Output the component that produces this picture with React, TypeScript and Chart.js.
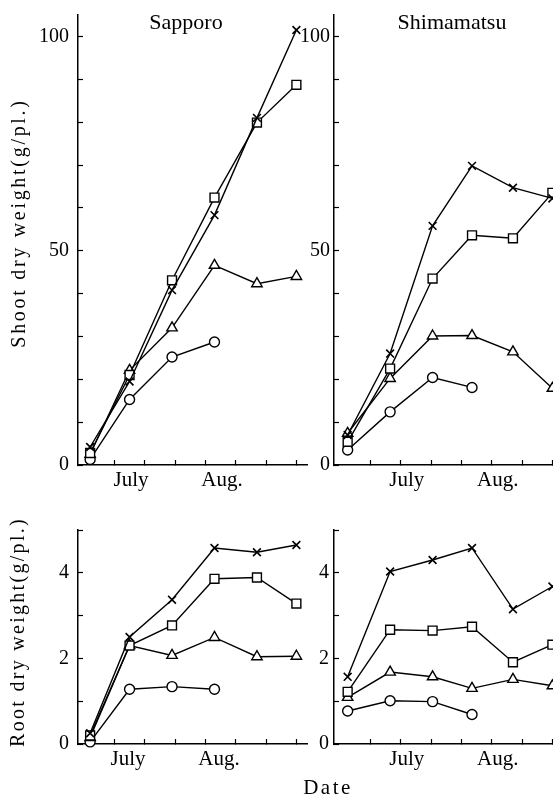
import React, { useEffect, useRef } from 'react';
import { Chart, registerables } from 'chart.js';

Chart.register(...registerables);

const FONT = "'Liberation Serif', 'DejaVu Serif', serif";

// sampling dates, expressed as days on the shared date axis
const sapporoDays = [4, 17, 31, 45, 59, 72];
const shimamatsuDays = [4.5, 18.5, 32.5, 45.5, 59, 72];
// date-axis tick marks (every 10 days) and month labels
const dateTicks = [12, 22, 32, 42, 52, 62, 72];
const monthLabels = ['July', 'Aug.'];
const sapporoMonthDays = [17.5, 47.5];
const shimamatsuMonthDays = [24, 54];

// y ticks
const shootTicks = [0, 10, 20, 30, 40, 50, 60, 70, 80, 90, 100];
const shootTickLabels = [0, 50, 100];
const rootTicks = [0, 1, 2, 3, 4, 5];
const rootTickLabels = [0, 2, 4];

// Shoot dry weight (g/pl.) — Sapporo
const sapporoShootCross = [4.2, 19.5, 40.8, 58.3, 81, 101.5];
const sapporoShootSquare = [2.8, 21, 43.1, 62.4, 79.9, 88.7];
const sapporoShootTriangle = [2.5, 22.1, 32, 46.6, 42.3, 44];
const sapporoShootCircle = [1.3, 15.3, 25.2, 28.7];

// Shoot dry weight (g/pl.) — Shimamatsu
const shimaShootCross = [7, 26, 55.8, 69.8, 64.7, 62.2];
const shimaShootSquare = [5.4, 22.5, 43.5, 53.6, 52.9, 63.5];
const shimaShootTriangle = [7.4, 20.2, 30.1, 30.2, 26.4, 17.9];
const shimaShootCircle = [3.5, 12.4, 20.4, 18.1];

// Root dry weight (g/pl.) — Sapporo
const sapporoRootCross = [0.25, 2.5, 3.37, 4.58, 4.48, 4.65];
const sapporoRootSquare = [0.2, 2.3, 2.77, 3.86, 3.89, 3.28];
const sapporoRootTriangle = [0.15, 2.3, 2.07, 2.49, 2.04, 2.05];
const sapporoRootCircle = [0.05, 1.28, 1.34, 1.28];

// Root dry weight (g/pl.) — Shimamatsu
const shimaRootCross = [1.57, 4.03, 4.3, 4.58, 3.15, 3.68];
const shimaRootSquare = [1.22, 2.67, 2.65, 2.74, 1.91, 2.32];
const shimaRootTriangle = [1.09, 1.68, 1.57, 1.3, 1.51, 1.36];
const shimaRootCircle = [0.77, 1.01, 0.99, 0.69];

type TextItem = { text: string; x: number; y: number; size: number; spacing?: number; rotate?: number };

type PanelProps = {
  left: number;
  top: number;
  width: number;
  height: number;
  padTop: number;
  padRight: number;
  yWidth: number;
  xHeight: number;
  yPad: number;
  xPad: number;
  days: number[];
  series: number[][];
  yMax: number;
  yTicks: number[];
  yLabels: number[];
  monthDays: number[];
  texts: TextItem[];
};

const markerStyles = [
  { pointStyle: 'crossRot', pointRadius: 5.5, pointBorderWidth: 1.6 },
  { pointStyle: 'rect', pointRadius: 6.3, pointBorderWidth: 1.4 },
  { pointStyle: 'triangle', pointRadius: 6, pointBorderWidth: 1.4 },
  { pointStyle: 'circle', pointRadius: 5, pointBorderWidth: 1.4 },
];

function zeroPadding(s: any) {
  s.paddingTop = 0;
  s.paddingBottom = 0;
  s.paddingLeft = 0;
  s.paddingRight = 0;
}

function Panel(p: PanelProps) {
  const ref = useRef<HTMLCanvasElement>(null);
  useEffect(() => {
    const texts = p.texts;
    const left = p.left;
    const top = p.top;
    const textPlugin = {
      id: 'pageTexts',
      afterDraw(chart: any) {
        const ctx = chart.ctx as CanvasRenderingContext2D;
        for (const t of texts) {
          ctx.save();
          ctx.translate(t.x - left, t.y - top);
          if (t.rotate) ctx.rotate(t.rotate);
          ctx.font = `${t.size}px ${FONT}`;
          (ctx as any).letterSpacing = `${t.spacing || 0}px`;
          ctx.fillStyle = '#000';
          ctx.textAlign = 'center';
          ctx.textBaseline = 'middle';
          ctx.fillText(t.text, 0, 0);
          ctx.restore();
        }
      },
    };
    const allX = [...dateTicks, ...p.monthDays].sort((a, b) => a - b);
    const datasets = p.series.map((vals, si) => ({
      data: vals.map((v, i) => ({ x: p.days[i], y: v })),
      borderColor: '#000',
      borderWidth: 1.4,
      pointBackgroundColor: '#fff',
      pointBorderColor: '#000',
      fill: false,
      tension: 0,
      clip: false as any,
      ...markerStyles[si],
    }));
    const chart = new Chart(ref.current as HTMLCanvasElement, {
      type: 'line',
      data: { datasets: datasets as any },
      options: {
        responsive: false,
        maintainAspectRatio: false,
        animation: false,
        events: [],
        layout: { padding: { left: 0, top: p.padTop, right: p.padRight, bottom: 0 } },
        plugins: {
          legend: { display: false },
          tooltip: { enabled: false },
          title: { display: false },
        },
        scales: {
          x: {
            type: 'linear',
            position: 'bottom',
            min: 0,
            max: 75.5,
            afterFit: (s: any) => {
              s.height = p.xHeight;
              zeroPadding(s);
            },
            afterBuildTicks: (s: any) => {
              s.ticks = allX.map((v) => ({ value: v }));
            },
            border: { display: true, color: '#000', width: 1.5 },
            grid: {
              display: true,
              drawOnChartArea: false,
              drawTicks: true,
              tickLength: -5,
              tickWidth: 1.2,
              tickColor: (c: any) =>
                c.tick && p.monthDays.includes(c.tick.value) ? 'rgba(0,0,0,0)' : '#000',
            },
            ticks: {
              autoSkip: false,
              maxRotation: 0,
              minRotation: 0,
              padding: p.xPad,
              color: '#000',
              font: { family: FONT, size: 21 },
              callback: (v: any) => {
                const i = p.monthDays.indexOf(Number(v));
                return i >= 0 ? monthLabels[i] : '';
              },
            },
          },
          y: {
            type: 'linear',
            position: 'left',
            min: 0,
            max: p.yMax,
            afterFit: (s: any) => {
              s.width = p.yWidth;
              zeroPadding(s);
            },
            afterBuildTicks: (s: any) => {
              s.ticks = p.yTicks.map((v) => ({ value: v }));
            },
            border: { display: true, color: '#000', width: 1.5 },
            grid: {
              display: true,
              drawOnChartArea: false,
              drawTicks: true,
              tickLength: -5,
              tickWidth: 1.2,
              tickColor: '#000',
            },
            ticks: {
              autoSkip: false,
              padding: p.yPad,
              color: '#000',
              font: { family: FONT, size: 20 },
              callback: (v: any) => (p.yLabels.includes(Number(v)) ? String(v) : ''),
            },
          },
        },
      },
      plugins: [textPlugin],
    });
    return () => chart.destroy();
  }, []);
  return (
    <canvas
      ref={ref}
      width={p.width}
      height={p.height}
      style={{ position: 'absolute', left: p.left, top: p.top, width: p.width, height: p.height }}
    />
  );
}

export default function App() {
  return (
    <div
      style={{
        position: 'absolute',
        left: 0,
        top: 0,
        width: 553,
        height: 800,
        overflow: 'hidden',
        background: '#fff',
      }}
    >
      <Panel
        left={0}
        top={0}
        width={330}
        height={500}
        padTop={15}
        padRight={23}
        yWidth={78}
        xHeight={35}
        yPad={14}
        xPad={8}
        days={sapporoDays}
        series={[sapporoShootCross, sapporoShootSquare, sapporoShootTriangle, sapporoShootCircle]}
        yMax={105}
        yTicks={shootTicks}
        yLabels={shootTickLabels}
        monthDays={sapporoMonthDays}
        texts={[
          { text: 'Sapporo', x: 186, y: 23, size: 22 },
          { text: 'Shoot dry weight(g/pl.)', x: 19.5, y: 223, size: 20, spacing: 2.7, rotate: -Math.PI / 2 },
        ]}
      />
      <Panel
        left={290}
        top={0}
        width={283}
        height={500}
        padTop={15}
        padRight={10}
        yWidth={44}
        xHeight={35}
        yPad={9}
        xPad={8}
        days={shimamatsuDays}
        series={[shimaShootCross, shimaShootSquare, shimaShootTriangle, shimaShootCircle]}
        yMax={105}
        yTicks={shootTicks}
        yLabels={shootTickLabels}
        monthDays={shimamatsuMonthDays}
        texts={[{ text: 'Shimamatsu', x: 452, y: 23, size: 22 }]}
      />
      <Panel
        left={0}
        top={500}
        width={360}
        height={300}
        padTop={30}
        padRight={53}
        yWidth={78}
        xHeight={56}
        yPad={14}
        xPad={8}
        days={sapporoDays}
        series={[sapporoRootCross, sapporoRootSquare, sapporoRootTriangle, sapporoRootCircle]}
        yMax={5}
        yTicks={rootTicks}
        yLabels={rootTickLabels}
        monthDays={[16.5, 46.5]}
        texts={[
          { text: 'Root dry weight(g/pl.)', x: 19, y: 632, size: 20, spacing: 2.3, rotate: -Math.PI / 2 },
          { text: 'Date', x: 328, y: 788, size: 21, spacing: 2.5 },
        ]}
      />
      <Panel
        left={290}
        top={500}
        width={283}
        height={300}
        padTop={30}
        padRight={10}
        yWidth={44}
        xHeight={56}
        yPad={10}
        xPad={8}
        days={shimamatsuDays}
        series={[shimaRootCross, shimaRootSquare, shimaRootTriangle, shimaRootCircle]}
        yMax={5}
        yTicks={rootTicks}
        yLabels={rootTickLabels}
        monthDays={shimamatsuMonthDays}
        texts={[]}
      />
    </div>
  );
}
